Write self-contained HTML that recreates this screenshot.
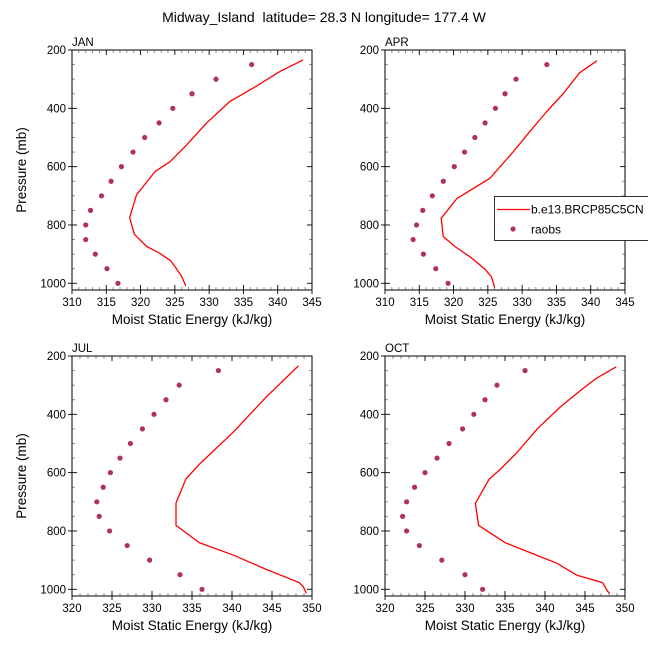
<!DOCTYPE html>
<html><head><meta charset="utf-8"><style>
html,body{margin:0;padding:0;background:#fff;}
svg{display:block;font-family:"Liberation Sans",sans-serif;}
</style></head><body>
<svg id="chart" width="648" height="648" viewBox="0 0 648 648" xmlns="http://www.w3.org/2000/svg">
<text x="324" y="22" text-anchor="middle" font-size="14" xml:space="preserve">Midway_Island  latitude= 28.3 N longitude= 177.4 W</text>
<g id="panels"></g>
<g>
<rect x="494.5" y="196.5" width="160" height="44" fill="#fff" stroke="#000" stroke-width="0.8"/>
<line x1="497" y1="209.5" x2="530" y2="209.5" stroke="#f00" stroke-width="1.3"/>
<text x="531" y="213.5" font-size="12">b.e13.BRCP85C5CN</text>
<circle cx="513" cy="229" r="2.6" fill="#b03060"/>
<text x="531" y="233.5" font-size="12">raobs</text>
</g>
</svg>
<script>
const panelNames = ["JAN","APR","JUL","OCT"];
const xMins = [310,310,320,320];
const xMaxs = [345,345,350,350];
const obsP = [250,300,350,400,450,500,550,600,650,700,750,800,850,900,950,1000];
const obsJAN = [336.2,331.0,327.5,324.7,322.7,320.6,318.9,317.2,315.7,314.3,312.7,312.0,312.0,313.4,315.1,316.7];
const obsAPR = [333.6,329.1,327.5,326.1,324.6,323.1,321.6,320.1,318.5,316.9,315.5,314.6,314.1,315.6,317.4,319.2];
const obsJUL = [338.3,333.4,331.75,330.25,328.8,327.3,326.0,324.8,323.9,323.1,323.4,324.7,326.9,329.7,333.5,336.25];
const obsOCT = [337.5,334.0,332.5,331.1,329.7,328.0,326.5,325.0,323.7,322.7,322.2,322.7,324.3,327.1,330.0,332.2];
const modPJAN = [234,274,331,377,451,526,583,617,697,775,832,874,897,923,952,977,1009];
const modJAN = [343.7,340.3,336.4,333.0,329.6,326.7,324.3,322.1,319.4,318.4,319.1,320.9,322.8,324.4,325.3,326.0,326.6];
const modPAPR = [237,278,349,411,480,549,640,709,777,840,874,909,952,977,1014];
const modAPR = [340.9,338.4,336.0,333.6,331.1,328.7,325.3,320.5,318.2,318.5,320.2,322.4,324.6,325.5,326.0];
const modPJUL = [234,340,460,569,621,704,781,840,883,932,957,977,991,1014];
const modJUL = [348.3,344.3,340.2,336.0,334.25,333.0,333.0,335.9,340.2,344.3,346.6,348.4,348.9,349.3];
const modPOCT = [237,275,310,375,451,531,589,623,705,781,806,840,874,911,952,977,1006,1014];
const modOCT = [348.9,346.5,344.8,341.9,339.0,336.5,334.4,333.0,331.3,331.7,333.1,335.0,338.1,341.5,344.0,347.2,347.8,348.1];
const yTicks = [200,400,600,800,1000];

const obsSets = [obsJAN,obsAPR,obsJUL,obsOCT];
const modSets = [modJAN,modAPR,modJUL,modOCT];
const modPSets = [modPJAN,modPAPR,modPJUL,modPOCT];
const origins = [[72,50],[385,50],[72,356],[385,356]];
const W=240,H=240,PMIN=200,PMAX=1023;
const NS="http://www.w3.org/2000/svg";
const root=document.getElementById('panels');
function mk(tag,attrs,parent){const e=document.createElementNS(NS,tag);for(const k in attrs)e.setAttribute(k,attrs[k]);parent.appendChild(e);return e;}
for(let i=0;i<4;i++){
  const [ox,oy]=origins[i];
  const xs=v=>ox+(v-xMins[i])/(xMaxs[i]-xMins[i])*W;
  const ys=p=>oy+(p-PMIN)/(PMAX-PMIN)*H;
  const g=mk('g',{},root);
  
  
  for(let v=xMins[i];v<=xMaxs[i];v++){
    const major=(v%5===0);const L=major?5:3;const x=xs(v);
    const c=major?'#000':'#888';const O=major?4:0;
    mk('line',{x1:x,y1:oy+H+O,x2:x,y2:oy+H-L,stroke:c,'stroke-width':0.9},g);
    mk('line',{x1:x,y1:oy,x2:x,y2:oy+L,stroke:c,'stroke-width':0.9},g);
    if(major){const t=mk('text',{x:x,y:oy+H+16,'text-anchor':'middle','font-size':11.5},g);t.textContent=v;
      
      }
  }
  for(let p=200;p<=1000;p+=50){
    const major=(p%200===0);const L=major?5:3;const y=ys(p);const c=major?'#000':'#888';const O=major?4:0;
    mk('line',{x1:ox-O,y1:y,x2:ox+L,y2:y,stroke:c,'stroke-width':0.9},g);
    mk('line',{x1:ox+W,y1:y,x2:ox+W-L,y2:y,stroke:c,'stroke-width':0.9},g);
  }
  yTicks.forEach(p=>{const t=mk('text',{x:ox-6,y:ys(p)+4,'text-anchor':'end','font-size':11.5},g);t.textContent=p;
    
    });
  const fr=mk('rect',{x:ox,y:oy,width:W,height:H,fill:'none',stroke:'#000','stroke-width':1},g);
  
  
  const lab=mk('text',{x:ox,y:oy-4,'font-size':11.5},g);lab.textContent=panelNames[i];
  
  
  const xt=mk('text',{x:ox+W/2,y:oy+H+34,'text-anchor':'middle','font-size':13.5},g);xt.textContent='Moist Static Energy (kJ/kg)';
  
  
  if(i%2===0){const yt=mk('text',{transform:`translate(${ox-46},${oy+H/2}) rotate(-90)`,'text-anchor':'middle','font-size':13.5},g);yt.textContent='Pressure (mb)';
    
    }
  const pts=modSets[i].map((v,k)=>xs(v).toFixed(1)+','+ys(modPSets[i][k]).toFixed(1)).join(' ');
  const pl=mk('polyline',{points:pts,fill:'none',stroke:'#f00','stroke-width':1.3,'stroke-linejoin':'round'},g);
  
  
  obsSets[i].forEach((v,k)=>{const c=mk('circle',{cx:xs(v),cy:ys(obsP[k]),r:2.6,fill:'#b03060'},g);
    
    });
}
</script>
</body></html>
